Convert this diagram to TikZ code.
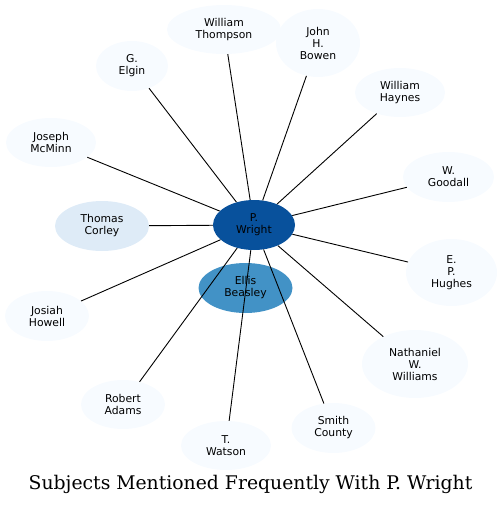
\documentclass[tikz,border=0pt]{standalone}
\usepackage{fontspec}
\setmainfont{DejaVu Serif}
\newfontfamily\nodefont{DejaVu Sans}
\usetikzlibrary{shapes.geometric}
\definecolor{cA}{HTML}{08519C}
\definecolor{cB}{HTML}{4292C6}
\definecolor{cC}{HTML}{DEEBF7}
\definecolor{cD}{HTML}{F7FBFF}
\tikzset{
  ent/.style={ellipse, fill=cD, draw=none, inner sep=0pt, align=center,
    font=\nodefont\fontsize{10.8}{12}\selectfont, text=black},
  sz/.style 2 args={minimum width=#1pt, minimum height=#2pt},
  link/.style={draw=black, line width=0.9pt}
}
\begin{document}
\begin{tikzpicture}[x=1pt,y=-1pt]
\useasboundingbox (0,0) rectangle (502,507);
\node[ent, fill=cB, sz={94}{50}] (eb) at (245.5,288) {Ellis\\Beasley};
\node[ent, fill=cA, sz={82}{50}] (pw) at (254,225) {P.\\Wright};
\node[ent, fill=cC, sz={94}{50}] (tc) at (102,226) {Thomas\\Corley};
\node[ent, sz={114}{49}] (wt) at (224,29.5) {William\\Thompson};
\node[ent, sz={84}{68}] (jb) at (318,43) {John\\H.\\Bowen};
\node[ent, sz={72}{50}] (ge) at (132,66) {G.\\Elgin};
\node[ent, sz={90}{49}] (wh) at (400,92.5) {William\\Haynes};
\node[ent, sz={90}{49}] (jm) at (51,142.5) {Joseph\\McMinn};
\node[ent, sz={91}{50}] (wg) at (448.5,177) {W.\\Goodall};
\node[ent, sz={91}{67}] (eh) at (451.5,272.5) {E.\\P.\\Hughes};
\node[ent, sz={84}{50}] (jh) at (47,316) {Josiah\\Howell};
\node[ent, sz={106}{68}] (nw) at (415,364) {Nathaniel\\W.\\Williams};
\node[ent, sz={84}{49}] (ra) at (123,404.5) {Robert\\Adams};
\node[ent, sz={84}{50}] (sc) at (333.5,428) {Smith\\County};
\node[ent, sz={90}{49}] (tw) at (226,445.5) {T.\\Watson};
\foreach \t in {tc,wt,jb,ge,wh,jm,wg,eh,jh,nw,ra,sc,tw}
  \draw[link] (pw) -- (\t);
\node[font=\fontsize{18.8}{20}\selectfont, anchor=base, inner sep=0pt] (title) at (250.5,489) {Subjects Mentioned Frequently With P. Wright};
\end{tikzpicture}
\end{document}
